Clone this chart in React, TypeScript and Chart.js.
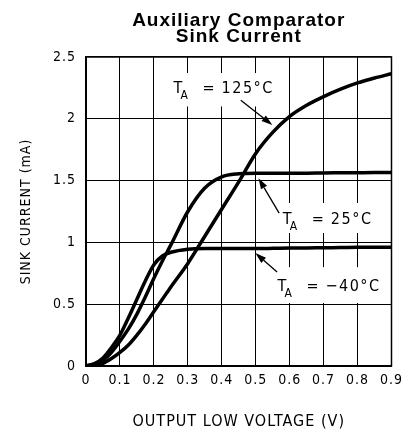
import React, { useEffect, useRef } from "react";
import { Chart, registerables } from "chart.js";

Chart.register(...registerables);

// Output low voltage (V)
const voltage = [0, 0.025, 0.05, 0.075, 0.1, 0.125, 0.15, 0.175, 0.2, 0.225, 0.25, 0.3, 0.35, 0.4, 0.45, 0.5, 0.55, 0.6, 0.65, 0.7, 0.75, 0.8, 0.85, 0.9];
// Sink current (mA)
const sink125 = [0, 0.008, 0.022, 0.06, 0.11, 0.17, 0.25, 0.34, 0.44, 0.54, 0.64, 0.83, 1.05, 1.27, 1.49, 1.72, 1.89, 2.02, 2.11, 2.18, 2.24, 2.29, 2.33, 2.365];
const sink25 = [0, 0.015, 0.045, 0.11, 0.2, 0.3, 0.42, 0.56, 0.71, 0.85, 0.98, 1.25, 1.44, 1.53, 1.555, 1.56, 1.56, 1.56, 1.56, 1.562, 1.563, 1.564, 1.565, 1.565];
const sinkM40 = [0, 0.02, 0.065, 0.15, 0.25, 0.39, 0.54, 0.69, 0.82, 0.89, 0.92, 0.945, 0.95, 0.95, 0.95, 0.95, 0.952, 0.955, 0.955, 0.957, 0.958, 0.96, 0.96, 0.96];

const seriesNames = ["T_A = 125°C", "T_A = 25°C", "T_A = -40°C"];
const labelValues = ["125°C", "25°C", "\u221240°C"];

const xTickMax = 0.9;
const yTickMax = 2.5;

const TITLE = ["Auxiliary Comparator", "Sink Current"];
const X_TITLE = "OUTPUT LOW VOLTAGE (V)";
const Y_TITLE = "SINK CURRENT (mA)";

// annotation placement (in data units): text anchor, arrow tail, arrow tip, white box
const labelAnchors = [
  { tx: 0.258, ty: 2.21, ax0: 0.456, ay0: 2.15, ax1: 0.549, ay1: 1.95, bx0: 0.229, bx1: 0.578, by0: 2.37, by1: 2.1 },
  { tx: 0.58, ty: 1.15, ax0: 0.569, ay0: 1.237, ax1: 0.508, ay1: 1.52, bx0: 0.563, bx1: 0.868, by0: 1.319, by1: 1.076 },
  { tx: 0.564, ty: 0.607, ax0: 0.563, ay0: 0.76, ax1: 0.499, ay1: 0.914, bx0: 0.549, bx1: 0.883, by0: 0.8, by1: 0.51 },
];

const FONT_FAMILY = '"DejaVu Sans Condensed", "DejaVu Sans", sans-serif';

const tempLabelsPlugin = {
  id: "tempLabels",
  beforeLayout(chart: any) {
    chart.ctx.letterSpacing = "1px";
  },
  beforeDraw(chart: any) {
    chart.ctx.letterSpacing = "1px";
  },
  beforeDatasetsDraw(chart: any) {
    const { ctx, scales } = chart;
    const xs = scales.x;
    const ys = scales.y;
    ctx.save();
    ctx.fillStyle = "#ffffff";
    for (const a of labelAnchors) {
      const x0 = xs.getPixelForValue(a.bx0);
      const x1 = xs.getPixelForValue(a.bx1);
      const y0 = ys.getPixelForValue(a.by0);
      const y1 = ys.getPixelForValue(a.by1);
      ctx.fillRect(x0, y0, x1 - x0, y1 - y0);
    }
    ctx.restore();
  },
  afterDatasetsDraw(chart: any) {
    const { ctx, scales, chartArea } = chart;
    const xs = scales.x;
    const ys = scales.y;
    ctx.save();
    ctx.strokeStyle = "#000";
    ctx.lineWidth = 1.5;
    ctx.strokeRect(chartArea.left, chartArea.top, chartArea.right - chartArea.left, chartArea.bottom - chartArea.top);

    ctx.fillStyle = "#000";
    ctx.letterSpacing = "1.5px";
    ctx.textBaseline = "alphabetic";
    ctx.textAlign = "left";
    labelAnchors.forEach((a, i) => {
      const x = xs.getPixelForValue(a.tx);
      const y = ys.getPixelForValue(a.ty);
      ctx.font = `16px ${FONT_FAMILY}`;
      ctx.fillText("T", x, y);
      ctx.font = `12px ${FONT_FAMILY}`;
      ctx.fillText("A", x + 7, y + 6);
      ctx.font = `16px ${FONT_FAMILY}`;
      ctx.fillText("=", x + 29, y);
      ctx.fillText(labelValues[i], x + 48, y);

      const px0 = xs.getPixelForValue(a.ax0);
      const py0 = ys.getPixelForValue(a.ay0);
      const px1 = xs.getPixelForValue(a.ax1);
      const py1 = ys.getPixelForValue(a.ay1);
      const ang = Math.atan2(py1 - py0, px1 - px0);
      const hl = 11;
      const hw = 3.5;
      const bx = px1 - hl * Math.cos(ang);
      const by = py1 - hl * Math.sin(ang);
      ctx.lineWidth = 1.3;
      ctx.beginPath();
      ctx.moveTo(px0, py0);
      ctx.lineTo(bx, by);
      ctx.stroke();
      ctx.beginPath();
      ctx.moveTo(px1, py1);
      ctx.lineTo(bx + hw * Math.sin(ang), by - hw * Math.cos(ang));
      ctx.lineTo(bx - hw * Math.sin(ang), by + hw * Math.cos(ang));
      ctx.closePath();
      ctx.fill();
    });
    ctx.restore();
  },
};

export default function App() {
  const canvasRef = useRef<HTMLCanvasElement | null>(null);

  useEffect(() => {
    const canvas = canvasRef.current;
    if (!canvas) return;
    const series = [sink125, sink25, sinkM40];
    const chart = new Chart(canvas, {
      type: "line",
      data: {
        datasets: series.map((s, i) => ({
          label: seriesNames[i],
          data: voltage.map((v, k) => ({ x: v, y: s[k] })),
          borderColor: "#000",
          backgroundColor: "#000",
          borderWidth: 3.5,
          pointRadius: 0,
          cubicInterpolationMode: "monotone" as const,
          fill: false,
        })),
      },
      options: {
        responsive: false,
        animation: false,
        devicePixelRatio: 1,
        layout: { padding: { left: 0, right: 13, top: 0, bottom: 0 } },
        plugins: {
          legend: { display: false },
          tooltip: { enabled: false },
          title: {
            display: true,
            text: TITLE,
            fullSize: false,
            color: "#000",
            font: { family: '"Liberation Sans", Arial, sans-serif', size: 19, weight: "bold", lineHeight: 0.842 },
            padding: { top: 12.5, bottom: 12.5 },
          },
        },
        scales: {
          x: {
            type: "linear",
            min: 0,
            max: xTickMax,
            afterFit(scale: any) {
              scale.height = 66;
            },
            ticks: {
              stepSize: 0.1,
              color: "#000",
              padding: 6,
              font: { family: FONT_FAMILY, size: 14 },
              callback: (v: any) => (Number(v) === 0 ? "0" : Number(v).toFixed(1)),
            },
            grid: { color: "#000", lineWidth: 1, drawTicks: false },
            border: { color: "#000", width: 1.5 },
            title: {
              display: true,
              text: X_TITLE,
              color: "#000",
              font: { family: FONT_FAMILY, size: 16, lineHeight: 1.2 },
              padding: { top: 0, bottom: 1 },
            },
          },
          y: {
            type: "linear",
            min: 0,
            max: yTickMax,
            afterFit(scale: any) {
              scale.width = 86;
            },
            ticks: {
              stepSize: 0.5,
              color: "#000",
              padding: 10,
              font: { family: FONT_FAMILY, size: 14 },
              callback: (v: any) => String(Number(v)),
            },
            grid: { color: "#000", lineWidth: 1, drawTicks: false },
            border: { color: "#000", width: 1.5 },
            title: {
              display: true,
              text: Y_TITLE,
              color: "#000",
              font: { family: FONT_FAMILY, size: 14, lineHeight: 1.2 },
              padding: { top: 17.5, bottom: 0 },
            },
          },
        },
      },
      plugins: [tempLabelsPlugin],
    });
    return () => chart.destroy();
  }, []);

  return (
    <div style={{ position: "fixed", left: 0, top: 0, width: 409, height: 432, background: "#fff" }}>
      <canvas ref={canvasRef} width={409} height={432} style={{ display: "block", width: 409, height: 432 }} />
    </div>
  );
}
